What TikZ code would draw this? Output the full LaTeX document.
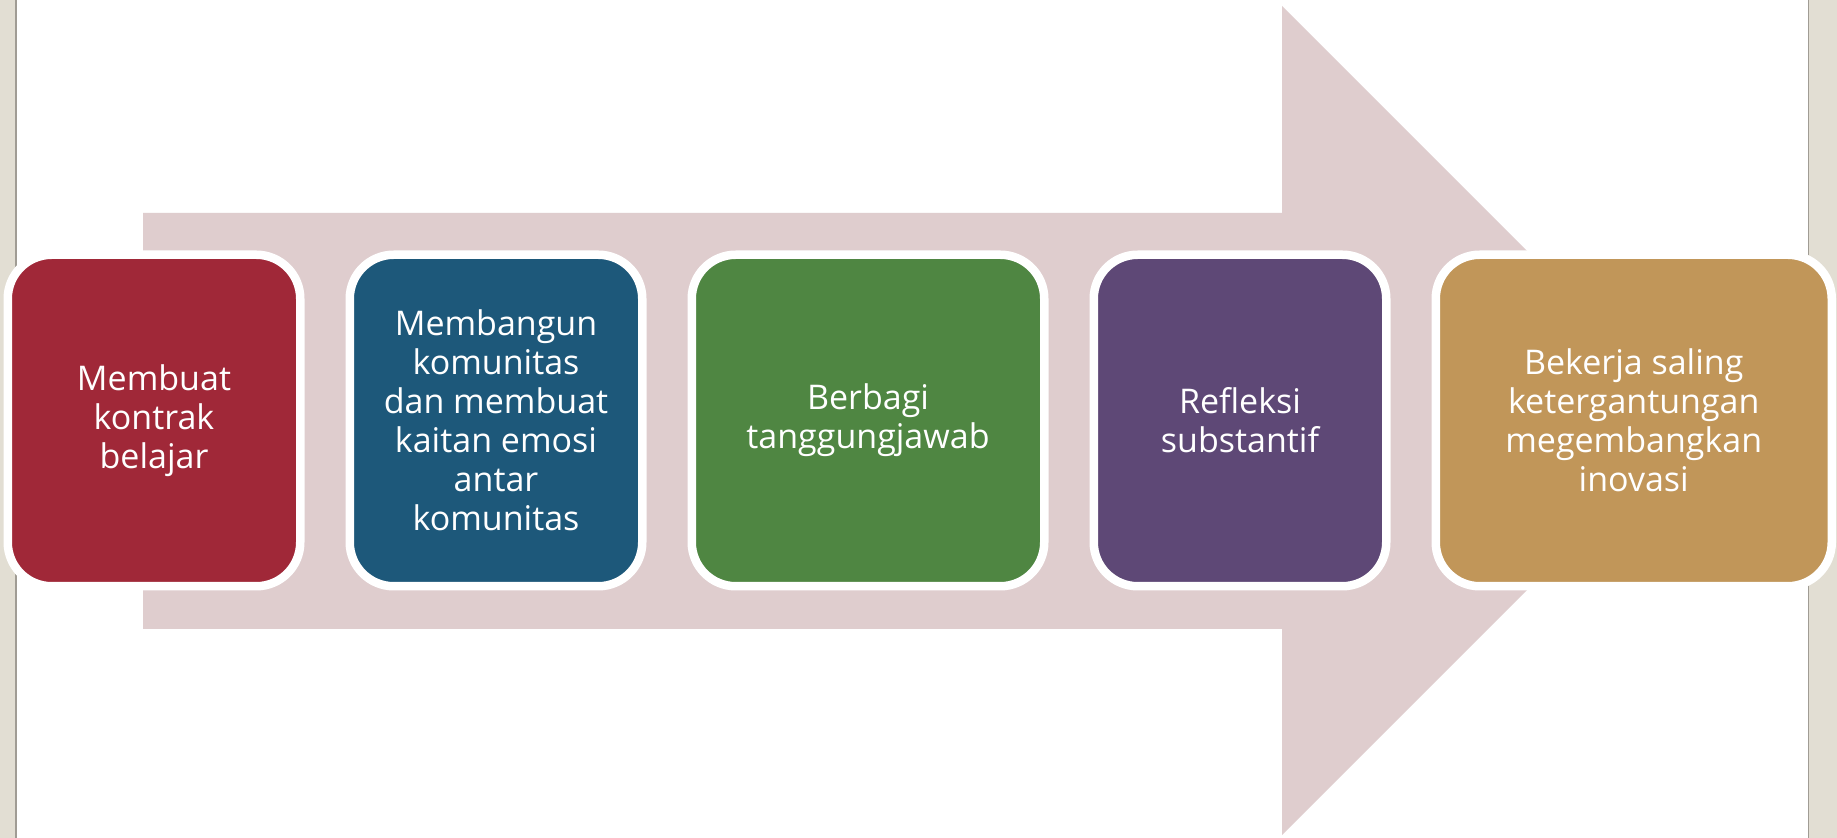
\documentclass[tikz,border=0pt]{standalone}
\usepackage{fontspec}
\setmainfont{Open Sans}
\usetikzlibrary{positioning}

\definecolor{bandpink}{RGB}{223,205,206}
\definecolor{framebeige}{RGB}{226,222,211}
\definecolor{frameshade}{RGB}{160,156,148}
\definecolor{stepred}{RGB}{160,40,56}
\definecolor{stepblue}{RGB}{29,88,122}
\definecolor{stepgreen}{RGB}{79,134,66}
\definecolor{steppurple}{RGB}{94,72,118}
\definecolor{stepgold}{RGB}{193,150,89}

\begin{document}
\begin{tikzpicture}[x=0.5pt, y=-0.5pt, node distance=24.75pt,
    stepbox/.style={draw=white, line width=4.25pt, rounded corners=22pt, outer sep=0pt,
      minimum height=165.75pt, minimum width=146.25pt, inner sep=0pt,
      text=white, align=center, font=\fontsize{17}{19.5}\selectfont}]
    % page frame
    \useasboundingbox (0,0) rectangle (1837,838);
    \fill[framebeige] (0,0) rectangle (1837,838);
    \fill[white] (16,0) rectangle (1808,838);
    \fill[frameshade] (15,0) rectangle (16.5,838);
    \fill[frameshade] (1807.5,0) rectangle (1809,838);
    % big arrow behind the steps
    \fill[bandpink] (143,213) -- (1282,213) -- (1282,6) -- (1696.5,420.5)
      -- (1282,835) -- (1282,629) -- (143,629) -- cycle;
    % steps
    \node (kontrak) [stepbox, fill=stepred, anchor=west] at (7.75,420.5) {Membuat\\kontrak\\belajar};
    \node (komunitas) [stepbox, fill=stepblue, right=of kontrak] {Membangun\\komunitas\\dan membuat\\kaitan emosi\\antar\\komunitas};
    \node (tanggung) [stepbox, fill=stepgreen, minimum width=176.25pt, right=of komunitas] {Berbagi\\tanggungjawab};
    \node (refleksi) [stepbox, fill=steppurple, right=of tanggung] {Refleksi\\substantif};
    \node (inovasi) [stepbox, fill=stepgold, minimum width=198pt, right=of refleksi] {Bekerja saling\\ketergantungan\\megembangkan\\inovasi};
  \end{tikzpicture}
\end{document}
